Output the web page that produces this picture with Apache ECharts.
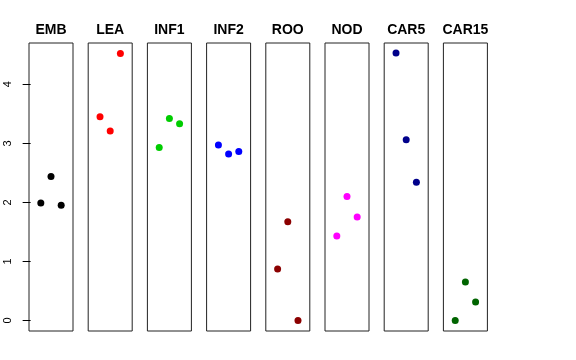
<!DOCTYPE html>
<html><head><meta charset="utf-8">
<script src="https://cdn.jsdelivr.net/npm/echarts@6/dist/echarts.min.js"></script>
<style>html,body{margin:0;padding:0;background:#fff}#c{width:576px;height:360px}</style>
</head><body><div id="c"></div>
<script>
var categories = ['EMB','LEA','INF1','INF2','ROO','NOD','CAR5','CAR15'];
var colors = ['#000000','#FF0000','#00CD00','#0000FF','#8B0000','#FF00FF','#00008B','#006400'];
var xPositions = [1, 2, 3];
var valEMB = [1.99, 2.44, 1.95];
var valLEA = [3.45, 3.21, 4.52];
var valINF1 = [2.93, 3.42, 3.33];
var valINF2 = [2.97, 2.82, 2.86];
var valROO = [0.87, 1.67, 0.00];
var valNOD = [1.43, 2.10, 1.75];
var valCAR5 = [4.53, 3.06, 2.34];
var valCAR15 = [0.00, 0.65, 0.31];
var yTicks = [0, 1, 2, 3, 4];
var allValues = [valEMB, valLEA, valINF1, valINF2, valROO, valNOD, valCAR5, valCAR15];

var grids = [], xAxes = [], yAxes = [], series = [];
for (var i = 0; i < categories.length; i++) {
  grids.push({left: 29 + 59.2 * i, top: 43, width: 44, height: 288, show: true,
    borderColor: '#222', borderWidth: 1, backgroundColor: 'transparent'});
  xAxes.push({gridIndex: i, type: 'value', min: -0.16, max: 4.16, position: 'top',
    axisLine: {show: false}, axisTick: {show: false}, axisLabel: {show: false}, splitLine: {show: false},
    name: categories[i], nameLocation: 'middle', nameGap: 6,
    nameTextStyle: {fontFamily: 'Liberation Sans', fontWeight: 'bold', fontSize: 14, color: '#000'}});
  yAxes.push({gridIndex: i, type: 'value', min: -0.18, max: 4.70,
    axisLine: {show: false}, splitLine: {show: false},
    axisTick: {show: i === 0, length: 8, inside: false, customValues: yTicks, lineStyle: {color: '#000'}},
    axisLabel: {show: i === 0, customValues: yTicks, rotate: 90, margin: 16,
      fontFamily: 'Liberation Sans', fontSize: 11, color: '#000'}});
  var d = [];
  for (var j = 0; j < xPositions.length; j++) d.push([xPositions[j], allValues[i][j]]);
  series.push({type: 'scatter', xAxisIndex: i, yAxisIndex: i, data: d, symbolSize: 7,
    itemStyle: {color: colors[i], opacity: 1}, silent: true, animation: false});
}
var chart = echarts.init(document.getElementById('c'), null, {renderer: 'canvas'});
chart.setOption({animation: false, grid: grids, xAxis: xAxes, yAxis: yAxes, series: series});
</script></body></html>
